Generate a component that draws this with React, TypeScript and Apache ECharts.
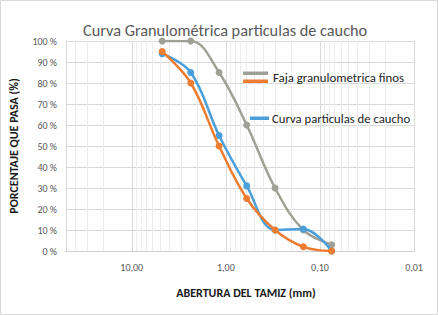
import React, { useEffect, useRef } from "react";
import * as echarts from "echarts";

const sieves = [4.75, 2.36, 1.18, 0.6, 0.3, 0.15, 0.075];
const fajaSuperior = [100, 100, 85, 60, 30, 10, 3];
const fajaInferior = [95, 80, 50, 25, 10, 2, 0];
const curvaCaucho = [94, 85, 55, 31, 10, 10.5, 0];
const minorGrid = [40, 30, 20, 9, 8, 7, 6, 5, 4, 3, 2, 0.9, 0.8, 0.7, 0.6, 0.5, 0.4, 0.3, 0.2, 0.09, 0.08, 0.07, 0.06, 0.05, 0.04, 0.03, 0.02];
const yTicks = [0, 10, 20, 30, 40, 50, 60, 70, 80, 90, 100];

const title = "Curva Granulométrica particulas de caucho";
const nameSuperior = "Faja granulometrica finos";
const nameInferior = "Faja inferior";
const nameCaucho = "Curva particulas de caucho";

const FONT = "'Carlito', 'Lato', 'Open Sans', sans-serif";
const GRAY = "#A0A196";
const ORANGE = "#ED7D31";
const BLUE = "#4A9FDB";

const pair = (vals: number[]) => sieves.map((s, i) => [s, vals[i]]);

export default function App() {
  const ref = useRef<HTMLDivElement>(null);
  useEffect(() => {
    document.body.style.margin = "0";
    const chart = echarts.init(ref.current!, null, { renderer: "svg" });
    const lineSeries = (name: string, vals: number[], color: string, z: number) => ({
      type: "line",
      name,
      data: pair(vals),
      smooth: 0.38,
      symbol: "circle",
      symbolSize: 7,
      z,
      lineStyle: { color, width: 2.5 },
      itemStyle: { color },
    });
    chart.setOption({
      animation: false,
      backgroundColor: "#ffffff",
      title: {
        text: title,
        left: 78,
        top: 17,
        textStyle: { fontFamily: FONT, fontSize: 16.3, fontWeight: "normal", color: "#595959" },
      },
      grid: { left: 66, right: 24, top: 41, bottom: 64 },
      xAxis: {
        type: "log",
        logBase: 10,
        min: 0.01,
        max: 50,
        inverse: true,
        name: "ABERTURA DEL TAMIZ (mm)",
        nameLocation: "middle",
        nameGap: 36,
        nameTextStyle: { fontFamily: FONT, fontSize: 12, fontWeight: "bold", color: "#1a1a1a", padding: [0, 0, 0, 12] },
        axisLine: { show: true, lineStyle: { color: "#d0d0d0", width: 1 } },
        axisTick: { show: false },
        axisLabel: {
          margin: 11,
          fontFamily: FONT,
          fontSize: 10,
          color: "#595959",
          formatter: (v: number) => {
            const l = Math.log10(v);
            if (Math.abs(l - Math.round(l)) < 1e-6 && v <= 10.0001) return v.toFixed(2).replace(".", ",");
            return "";
          },
        },
        splitLine: { show: true, lineStyle: { color: "#d9d9d9", width: 1 } },
      },
      yAxis: {
        type: "value",
        min: 0,
        max: 100,
        interval: 10,
        name: "PORCENTAJE QUE PASA (%)",
        nameLocation: "middle",
        nameGap: 46,
        nameTextStyle: { fontFamily: FONT, fontSize: 12, fontWeight: "bold", color: "#1a1a1a" },
        axisLine: { show: true, lineStyle: { color: "#d9d9d9" } },
        axisTick: { show: false },
        axisLabel: {
          margin: 9,
          fontFamily: FONT,
          fontSize: 10,
          color: "#595959",
          formatter: (v: number) => (yTicks.includes(v) ? `${v} %` : ""),
        },
        splitLine: { show: true, lineStyle: { color: "#d9d9d9", width: 1 } },
      },
      series: [
        {
          type: "line",
          name: "minor",
          data: [],
          z: 1,
          silent: true,
          markLine: {
            z: 1,
            silent: true,
            symbol: "none",
            label: { show: false },
            lineStyle: { color: "#ececec", type: "solid", width: 1 },
            data: minorGrid.map((v) => ({ xAxis: v })),
          },
        },
        lineSeries(nameSuperior, fajaSuperior, GRAY, 3),
        lineSeries(nameCaucho, curvaCaucho, BLUE, 4),
        lineSeries(nameInferior, fajaInferior, ORANGE, 5),
      ],
      graphic: [
        { type: "rect", shape: { x: 0.5, y: 0.5, width: 437, height: 314 }, style: { fill: "none", stroke: "#d9d9d9", lineWidth: 1 }, z: 0 },
        { type: "rect", shape: { x: 243, y: 71.5, width: 25, height: 3.5 }, style: { fill: GRAY }, z: 10 },
        { type: "rect", shape: { x: 243, y: 79.5, width: 25, height: 3.5 }, style: { fill: ORANGE }, z: 10 },
        { type: "text", x: 273, y: 77, style: { text: nameSuperior, fontFamily: FONT, fontSize: 12.8, fill: "#262626", textVerticalAlign: "middle" }, z: 10 },
        { type: "rect", shape: { x: 250, y: 116.5, width: 19, height: 3.5 }, style: { fill: BLUE }, z: 10 },
        { type: "text", x: 272, y: 118, style: { text: nameCaucho, fontFamily: FONT, fontSize: 12.7, fill: "#262626", textVerticalAlign: "middle" }, z: 10 },
      ],
    });
    return () => chart.dispose();
  }, []);
  return <div ref={ref} style={{ position: "absolute", left: 0, top: 0, width: 438, height: 315 }} />;
}
